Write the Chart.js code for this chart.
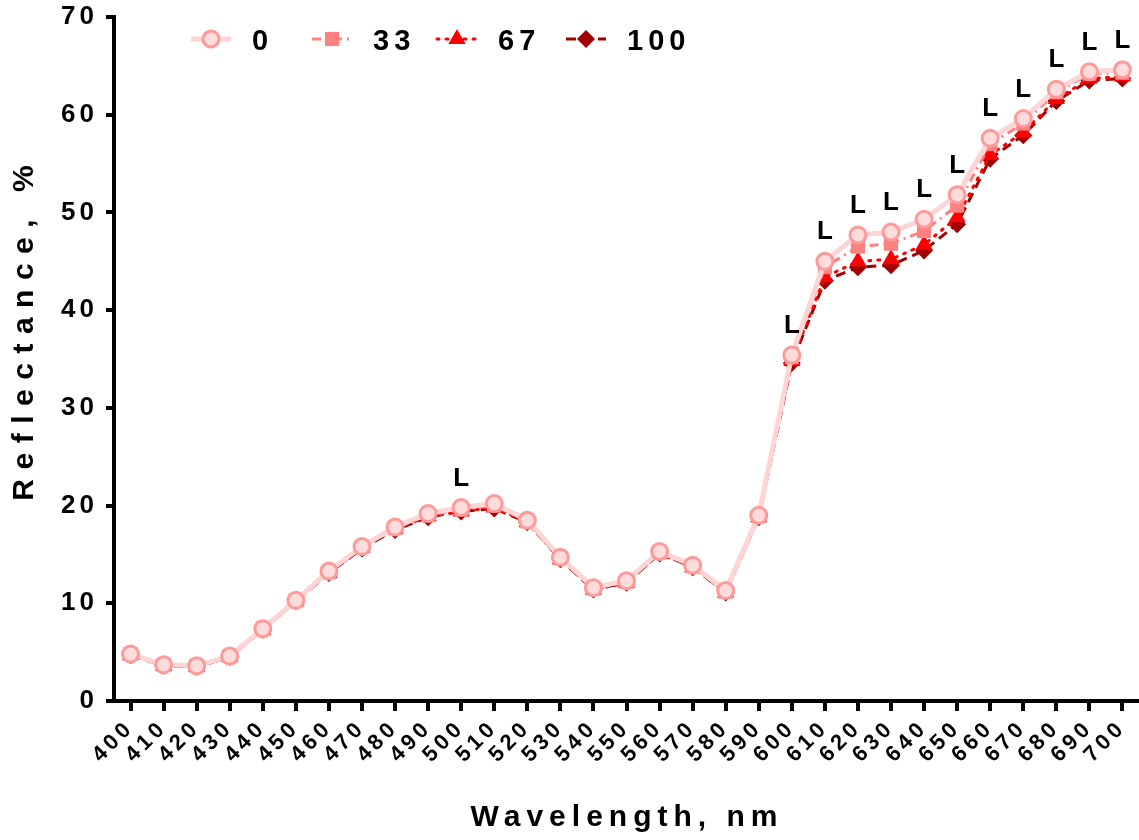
<!DOCTYPE html>
<html>
<head>
<meta charset="utf-8">
<script src="https://cdn.jsdelivr.net/npm/chart.js@4/dist/chart.umd.min.js"></script>
<style>
  html, body { margin: 0; padding: 0; background: #fff; }
  #box { width: 1139px; height: 840px; position: relative; }
</style>
</head>
<body>
<div id="box"><canvas id="myChart"></canvas></div>
<script>
// wavelengths, nm
const wavelengths = [400, 410, 420, 430, 440, 450, 460, 470, 480, 490, 500, 510, 520, 530, 540, 550,
  560, 570, 580, 590, 600, 610, 620, 630, 640, 650, 660, 670, 680, 690, 700];

const series0 = [4.8, 3.7, 3.6, 4.6, 7.4, 10.3, 13.3, 15.8, 17.8, 19.2, 19.8, 20.2, 18.5, 14.7, 11.6, 12.3,
  15.3, 13.9, 11.3, 19.0, 35.4, 45.0, 47.7, 48.0, 49.3, 51.8, 57.6, 59.6, 62.6, 64.4, 64.6];
const series33 = [4.8, 3.7, 3.6, 4.6, 7.4, 10.3, 13.2, 15.8, 17.7, 19.0, 19.6, 20.0, 18.4, 14.6, 11.5, 12.2,
  15.2, 13.8, 11.2, 18.9, 35.2, 44.4, 46.5, 46.8, 48.1, 50.7, 57.0, 59.1, 62.3, 64.2, 64.3];
const series67 = [4.7, 3.6, 3.5, 4.5, 7.3, 10.2, 13.1, 15.7, 17.6, 18.9, 19.4, 19.8, 18.3, 14.5, 11.4, 12.1,
  15.1, 13.7, 11.1, 18.8, 34.8, 43.4, 45.0, 45.2, 46.7, 49.5, 55.9, 58.2, 61.6, 63.7, 63.9];
const series100 = [4.7, 3.6, 3.5, 4.5, 7.3, 10.2, 13.1, 15.6, 17.5, 18.8, 19.4, 19.7, 18.3, 14.5, 11.4, 12.1,
  15.1, 13.7, 11.1, 18.8, 34.6, 43.0, 44.4, 44.6, 46.1, 48.8, 55.5, 57.9, 61.4, 63.5, 63.7];

const seriesNames = ["0", "33", "67", "100"];
// wavelengths marked with "L"
const lMarks = [500, 600, 610, 620, 630, 640, 650, 660, 670, 680, 690, 700];
const yTicks = [0, 10, 20, 30, 40, 50, 60, 70];

const FONT = "'Liberation Sans', Arial, sans-serif";
const SPACING = "4px";

Chart.defaults.font.family = FONT;
Chart.defaults.font.weight = "bold";
Chart.defaults.color = "#000";

const datasets = [
  {
    label: seriesNames[0], data: series0,
    borderColor: "#ffd4d4", borderWidth: 5,
    pointStyle: "circle", pointRadius: 8, pointBackgroundColor: "#ffdcdc",
    pointBorderColor: "#ff9a9a", pointBorderWidth: 3
  },
  {
    label: seriesNames[1], data: series33,
    borderColor: "#ff8080", borderWidth: 3, borderDash: [9, 5, 2, 5],
    pointStyle: "rect", pointRadius: 10, pointBackgroundColor: "#ff8080",
    pointBorderColor: "#ff8080", pointBorderWidth: 0
  },
  {
    label: seriesNames[2], data: series67,
    borderColor: "#ff0000", borderWidth: 3, borderDash: [2, 7], borderCapStyle: "round",
    pointStyle: "triangle", pointRadius: 10, pointBackgroundColor: "#ff0000",
    pointBorderColor: "#ff0000", pointBorderWidth: 0
  },
  {
    label: seriesNames[3], data: series100,
    borderColor: "#a00000", borderWidth: 3, borderDash: [10, 6],
    pointStyle: "rectRot", pointRadius: 9, pointBackgroundColor: "#a00000",
    pointBorderColor: "#a00000", pointBorderWidth: 0
  }
];

// letter spacing for all the text, like the original export
const spacingPlugin = {
  id: "spacing",
  beforeUpdate(chart) { chart.ctx.letterSpacing = SPACING; },
  beforeDraw(chart) { chart.ctx.letterSpacing = SPACING; }
};

function drawText(ctx, text, x, y, size, spacing, angle) {
  ctx.save();
  ctx.font = "bold " + size + "px " + FONT;
  ctx.letterSpacing = spacing;
  ctx.fillStyle = "#000";
  ctx.textBaseline = "middle";
  ctx.textAlign = "left";
  let w = ctx.measureText(text).width - parseFloat(spacing);
  ctx.translate(x, y);
  ctx.rotate(angle || 0);
  ctx.fillText(text, -w / 2, 0);
  ctx.restore();
}

const extrasPlugin = {
  id: "extras",
  afterDatasetsDraw(chart) {
    const ctx = chart.ctx;
    const xs = chart.scales.x;
    const ys = chart.scales.y;
    // "L" marks above the highest point
    lMarks.forEach((w) => {
      let i = wavelengths.indexOf(w);
      let top = Math.max(series0[i], series33[i], series67[i], series100[i]);
      drawText(ctx, "L", xs.getPixelForValue(i), ys.getPixelForValue(top) - 29, 26, "0px");
    });
  },
  afterDraw(chart) {
    const ctx = chart.ctx;
    // axis titles
    drawText(ctx, "Wavelength, nm", 624, 818, 30, "6px");
    drawText(ctx, "Reflectance, %", 25, 333, 30, "9.5px", -Math.PI / 2);

    // legend with line samples
    const legendX = [211, 332, 457, 586];
    const legendY = 39;
    chart.data.datasets.forEach((ds, k) => {
      let cx = legendX[k];
      ctx.save();
      ctx.strokeStyle = ds.borderColor;
      ctx.lineWidth = ds.borderWidth;
      ctx.lineCap = ds.borderCapStyle || "butt";
      ctx.setLineDash(ds.borderDash || []);
      ctx.beginPath();
      ctx.moveTo(cx - 20, legendY);
      ctx.lineTo(cx + 20, legendY);
      ctx.stroke();
      ctx.setLineDash([]);
      ctx.fillStyle = ds.pointBackgroundColor;
      ctx.strokeStyle = ds.pointBorderColor;
      ctx.lineWidth = ds.pointBorderWidth;
      Chart.helpers.drawPoint(ctx, {
        pointStyle: ds.pointStyle, radius: ds.pointRadius,
        rotation: 0, borderWidth: ds.pointBorderWidth
      }, cx, legendY);
      ctx.restore();
      ctx.save();
      ctx.font = "bold 29px " + FONT;
      ctx.letterSpacing = "5px";
      ctx.fillStyle = "#000";
      ctx.textBaseline = "middle";
      ctx.fillText(ds.label, cx + 41, legendY + 3);
      ctx.restore();
    });
  }
};

const myChart = new Chart(document.getElementById("myChart"), {
  type: "line",
  data: {
    labels: wavelengths,
    datasets: datasets
  },
  plugins: [spacingPlugin, extrasPlugin],
  options: {
    responsive: true,
    maintainAspectRatio: false,
    animation: false,
    layout: { autoPadding: false, padding: { top: 17, right: 0, bottom: 0, left: 0 } },
    plugins: { legend: { display: false }, tooltip: { enabled: false } },
    elements: { line: { tension: 0 } },
    scales: {
      x: {
        type: "category",
        offset: true,
        afterFit(scale) {
          scale.height = 139;
          scale.paddingLeft = 0;
          scale.paddingRight = 0;
        },
        border: { display: true, color: "#000", width: 4 },
        grid: {
          drawOnChartArea: false, drawTicks: true, tickLength: 10,
          color: "#000", tickColor: "#000", lineWidth: 4, tickWidth: 4, offset: false
        },
        ticks: {
          autoSkip: false, minRotation: 45, maxRotation: 45, padding: 4,
          font: { size: 22, weight: "bold" }, color: "#000"
        }
      },
      y: {
        min: 0, max: 70,
        afterFit(scale) {
          scale.width = 114;
          scale.paddingTop = 0;
          scale.paddingBottom = 0;
        },
        afterBuildTicks(scale) { scale.ticks = yTicks.map((v) => ({ value: v })); },
        border: { display: true, color: "#000", width: 4 },
        grid: {
          drawOnChartArea: false, drawTicks: true, tickLength: 8,
          color: "#000", tickColor: "#000", lineWidth: 4, tickWidth: 4
        },
        ticks: { padding: 8, font: { size: 26, weight: "bold" }, color: "#000" }
      }
    }
  }
});
</script>
</body>
</html>
